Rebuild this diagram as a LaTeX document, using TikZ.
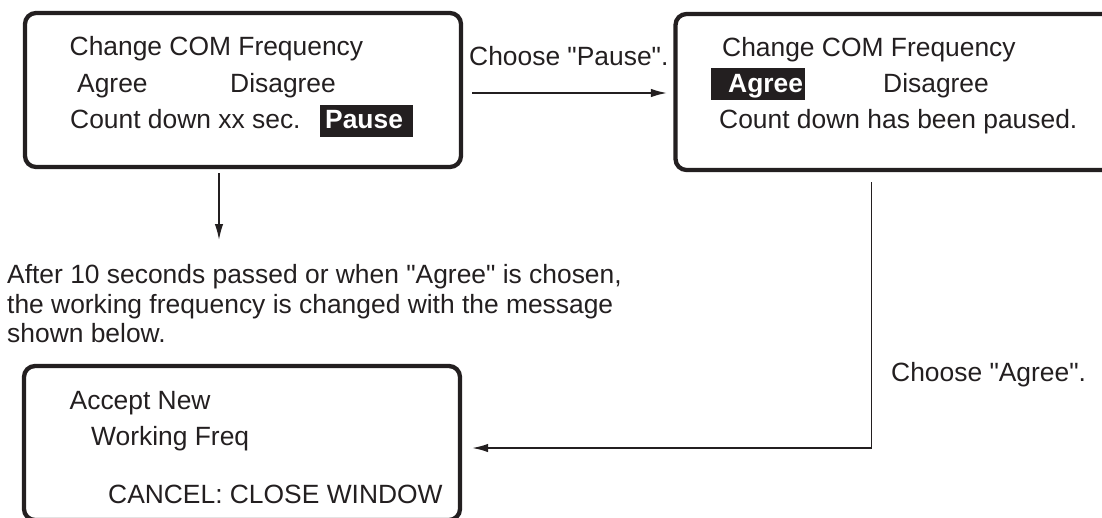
\documentclass[tikz,border=0pt]{standalone}
\usepackage{fontspec}
\setmainfont{Liberation Sans}[Ligatures=TeXOff]
\usetikzlibrary{arrows.meta}
\definecolor{ink}{RGB}{35,31,32}
\begin{document}
\begin{tikzpicture}[x=1pt,y=-1pt,
  every node/.style={text=ink},
  panel/.style={draw=ink, line width=4.3pt, rounded corners=11pt, inner sep=0pt, rectangle},
  txt/.style={anchor=base west, inner sep=0pt, font=\fontsize{26.4}{29.5}\selectfont},
  hlbg/.style={fill=ink, draw=none, inner sep=0pt, rectangle},
  hltxt/.style={anchor=base west, inner sep=0pt, text=white, font=\fontsize{26.4}{29.5}\selectfont\bfseries},
  conn/.style={draw=ink, line width=1.6pt, -{Latex[length=16pt,width=8.5pt]}},
]
\useasboundingbox (0,0) rectangle (1102,517);

% panels
\node[panel, minimum width=436pt, minimum height=154pt] (box1) at (243,90) {};
\node[panel, minimum width=440pt, minimum height=156pt] (box2) at (895.5,92) {};
\node[panel, minimum width=436pt, minimum height=154pt] (box3) at (242,443) {};

% box 1 text
\node[txt] (b1l1) at (69.5,55) {Change COM Frequency};
\node[txt] (b1agree) at (77,92) {Agree};
\node[txt] (b1dis) at (230,92) {Disagree};
\node[txt] (b1l3) at (70,128) {Count down xx sec.};
\node[hlbg, minimum width=93pt, minimum height=32pt] (pausebg) at (366.5,121) {};
\node[hltxt] (pause) at (325,128) {Pause};

% box 2 text
\node[txt] (b2l1) at (722,56) {Change COM Frequency};
\node[hlbg, minimum width=94pt, minimum height=32pt] (agreebg) at (758,84) {};
\node[hltxt] (b2agree) at (728,92) {Agree};
\node[txt] (b2dis) at (883,92) {Disagree};
\node[txt] (b2l3) at (719,128) {Count down has been paused.};

% box 3 text
\node[txt] (b3l1) at (69.5,409) {Accept New};
\node[txt] (b3l2) at (91,445) {Working Freq};
\node[txt] (b3l3) at (108,503) {CANCEL: CLOSE WINDOW};

% labels
\node[txt] (lpause) at (469,65) {Choose "Pause".};
\node[txt] (lagree) at (891,381) {Choose "Agree".};
\node[anchor=north west, inner sep=0pt, align=left, font=\fontsize{26.4}{29.5}\selectfont] (para) at (7,264.5)
  {After 10 seconds passed or when "Agree" is chosen,\\the working frequency is changed with the message\\shown below.};

% connectors
\draw[conn, shorten <=9pt, shorten >=6.4pt] (box1.east |- 0,93) -- (box2.west |- 0,93);
\draw[conn, shorten <=4pt, shorten >=24.5pt] (box1.south -| 219,0) -- (para.north -| 219,0);
\coordinate (bend) at (871.5,448);
\draw[conn, shorten <=10pt, shorten >=10pt] (box2.south -| bend) -- (bend) -- (box3.east |- bend);
\end{tikzpicture}
\end{document}
